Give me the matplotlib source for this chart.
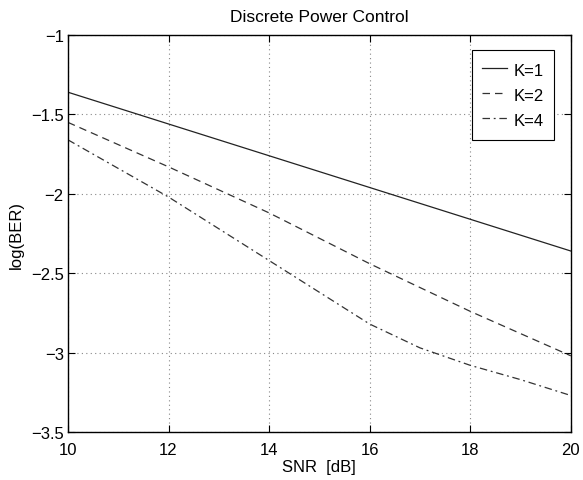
import numpy as np
import matplotlib
matplotlib.use("Agg")
import matplotlib.pyplot as plt

plt.rcParams['font.family'] = ['Liberation Sans', 'DejaVu Sans']

snr = [10, 11, 12, 13, 14, 15, 16, 17, 18, 19, 20]
ber_k1 = [-1.36, -1.46, -1.56, -1.66, -1.76, -1.86, -1.96, -2.06, -2.16, -2.26, -2.36]
ber_k2 = [-1.55, -1.69, -1.83, -1.975, -2.12, -2.28, -2.44, -2.59, -2.74, -2.88, -3.02]
ber_k4 = [-1.66, -1.84, -2.02, -2.22, -2.42, -2.62, -2.82, -2.97, -3.08, -3.17, -3.27]

fig = plt.figure(figsize=(5.83, 4.81), dpi=100)
ax = fig.add_axes([0.1166, 0.0998, 0.8624, 0.8252])

ax.plot(snr, ber_k1, color='#222222', lw=0.9, ls='-', label='K=1')
ax.plot(snr, ber_k2, color='#333333', lw=0.9, ls=(0, (6, 4)), label='K=2')
ax.plot(snr, ber_k4, color='#333333', lw=0.9, ls=(0, (6, 3, 1.5, 3)), label='K=4')

ax.set_xlim(10, 20)
ax.set_ylim(-3.5, -1)
ax.set_xticks([10, 12, 14, 16, 18, 20])
ax.set_yticks([-3.5, -3, -2.5, -2, -1.5, -1])
ax.set_yticklabels(['\u22123.5', '\u22123', '\u22122.5', '\u22122', '\u22121.5', '\u22121'])

ax.grid(True, ls=(0, (1, 3)), color='#888888', lw=0.8)
ax.tick_params(direction='in', top=True, right=True, length=5, width=0.8,
               labelsize=12)
ax.tick_params(axis='x', pad=7)
ax.tick_params(axis='y', pad=3)
for s in ax.spines.values():
    s.set_linewidth(1.0)

ax.set_title('Discrete Power Control', fontsize=12.5, pad=10)
ax.set_xlabel('SNR  [dB]', fontsize=12, labelpad=2)
ax.set_ylabel('log(BER)', fontsize=12, labelpad=5)

leg = ax.legend(loc='upper right', bbox_to_anchor=(0.966, 0.962), borderaxespad=0,
                fancybox=False, framealpha=1, edgecolor='black', fontsize=12,
                handlelength=1.5, handleheight=1.4, handletextpad=0.4,
                labelspacing=0.35, borderpad=0.6)
leg.get_frame().set_linewidth(0.8)

fig.savefig('out.png', dpi=100)
